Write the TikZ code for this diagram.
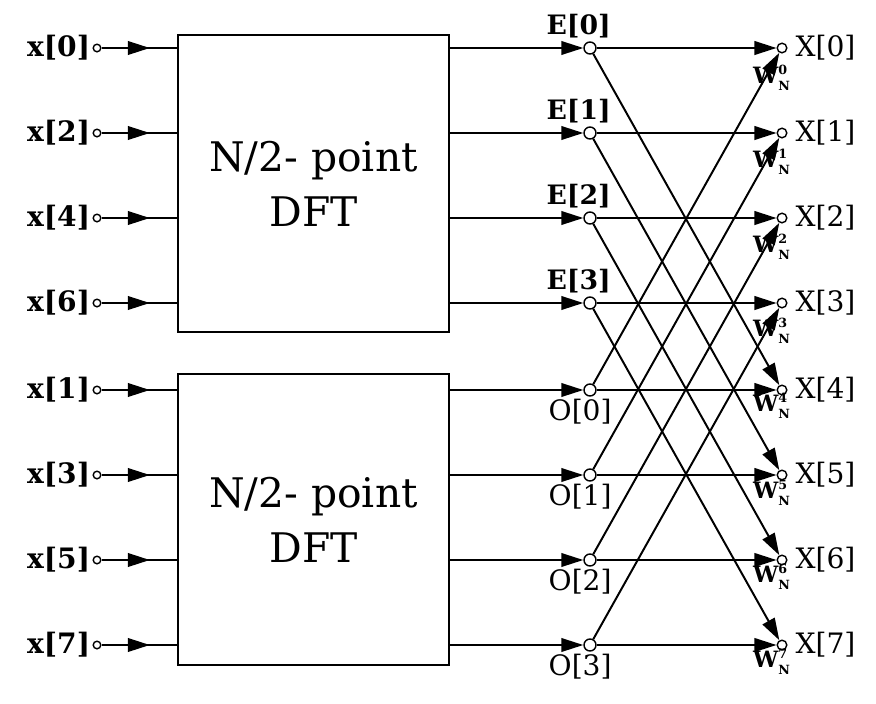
\documentclass[tikz,border=0pt]{standalone}
\usepackage{fontspec}
\setmainfont{DejaVu Serif}
\usetikzlibrary{arrows.meta,decorations.markings,positioning}

\begin{document}
\begin{tikzpicture}[
    x=0.025cm, y=-0.025cm,
    >={Triangle[length=5.5mm,width=3.4mm]},
    line width=1.4pt,
    dft/.style={
        rectangle, draw, line width=1.4pt,
        minimum width=6.775cm, align=center,
        font=\fontsize{29}{39}\selectfont
    },
    port/.style={circle, draw, fill=white, line width=1pt, inner sep=0pt, minimum size=0.19cm},
    bnode/.style={port, minimum size=0.3cm},
    onode/.style={port, minimum size=0.24cm},
    inlbl/.style={font=\fontsize{20}{20}\selectfont\bfseries},
    elbl/.style={font=\fontsize{19}{19}\selectfont\bfseries},
    olbl/.style={font=\fontsize{20}{20}\selectfont},
    xlbl/.style={font=\fontsize{20}{20}\selectfont},
    wlbl/.style={font=\fontsize{16}{16}\selectfont\bfseries, inner sep=0pt},
    midarr/.style={postaction={decorate}, decoration={markings,
        mark=at position 0.64 with {\arrow{Triangle[length=5.5mm,width=3.4mm]}}}}
]
\useasboundingbox (0,0) rectangle (876,704);
\node[dft, minimum height=7.425cm] (dft1) at (313.5,183.5) {N/2- point\\DFT};
\node[dft, minimum height=7.275cm] (dft2) at (313.5,519.5) {N/2- point\\DFT};
% inputs
\foreach \k/\yy in {0/48,2/133,4/218,6/303,1/390,3/475,5/560,7/645} {
    \node[port] (in\k) at (97,\yy) {};
    \node[inlbl, anchor=east, inner sep=1pt] at (in\k.west) {x[\k]};
    \draw[midarr] (in\k) -- (in\k -| dft1.west);
}
% butterfly nodes
\foreach \k/\yy in {0/48,1/133,2/218,3/303} {
    \node[bnode] (e\k) at (590,\yy) {};
    \node[elbl, above=-2pt of e\k, xshift=-8pt] {E[\k]};
    \draw[->] (dft1.east |- e\k) -- (e\k);
}
\foreach \k/\yy in {0/390,1/475,2/560,3/645} {
    \node[bnode] (o\k) at (590,\yy) {};
    \node[olbl, below=-2pt of o\k, xshift=-7pt] {O[\k]};
    \draw[->] (dft2.east |- o\k) -- (o\k);
}
% outputs
\foreach \k/\yy/\dy in {0/48/30,1/133/29,2/218/29,3/303/28,4/390/16,5/475/18,6/560/17,7/645/17} {
    \node[onode] (X\k) at (782,\yy) {};
    \node[xlbl, anchor=west, inner sep=1pt, xshift=4pt] at (X\k.east) {X[\k]};
    \node[wlbl, anchor=east] at (791,\yy+\dy) {W\rlap{\raisebox{0.8ex}{\fontsize{9}{9}\selectfont\k}}\raisebox{-0.6ex}{\fontsize{9}{9}\selectfont N}};
}
\foreach \k [evaluate=\k as \m using int(\k+4)] in {0,1,2,3} {
    \draw[->] (e\k) -- (X\k);
    \draw[->] (e\k) -- (X\m);
    \draw[->] (o\k) -- (X\m);
    \draw[->] (o\k) -- (X\k);
}
\end{tikzpicture}
\end{document}
